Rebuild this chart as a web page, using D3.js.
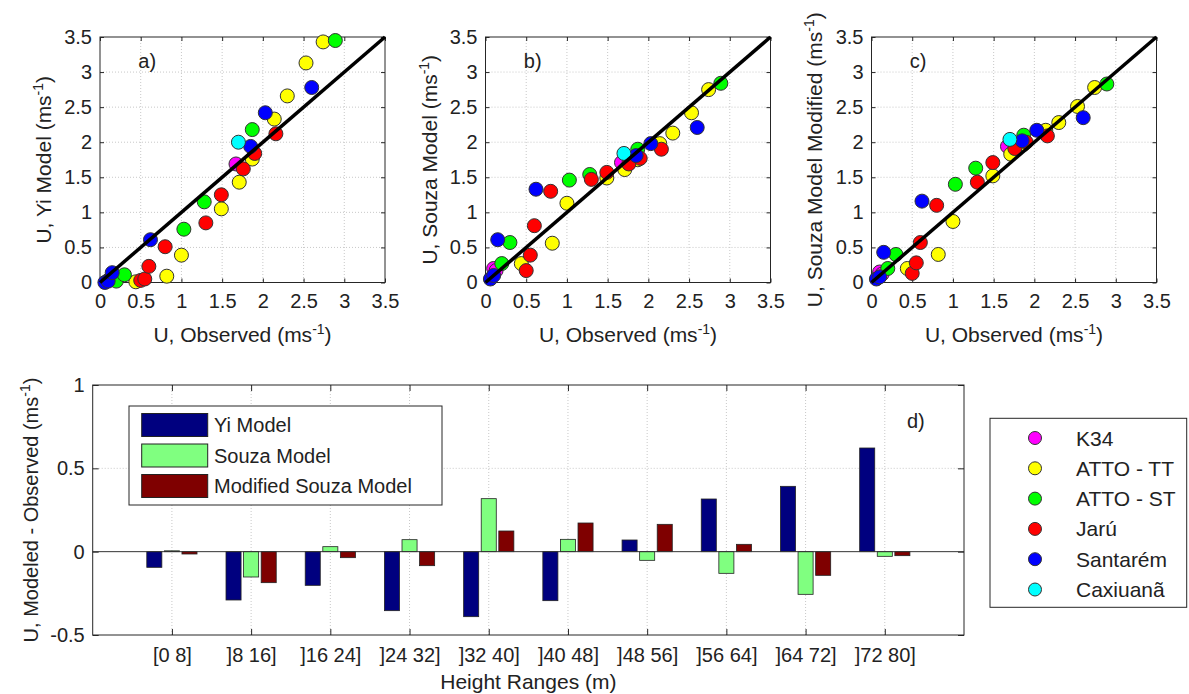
<!DOCTYPE html>
<html>
<head>
<meta charset="utf-8">
<script src="https://cdn.jsdelivr.net/npm/d3@7"></script>
<style>
  body { margin: 0; background: #fff; }
  svg { font-family: "Liberation Sans", Arial, sans-serif; }
</style>
</head>
<body>
<div id="chart"></div>
<script>
// Sites (legend order) and their marker colours
const sites = ["K34", "ATTO - TT", "ATTO - ST", "Jarú", "Santarém", "Caxiuanã"];
const siteColors = ["#ff00ff", "#ffff00", "#00ff00", "#ff0000", "#0000ff", "#00ffff"];

// One entry per point: site index, observed U, and the three modelled U values
const pointSite = [4, 4, 4, 0, 0, 2, 2, 1, 3, 3, 3, 4, 3, 1, 1, 2, 2, 3, 1, 3, 0, 5, 1, 3, 4, 2, 1, 3, 4, 1, 3, 1, 1, 4, 1, 2];
const obsU   = [0.06, 0.10, 0.15, 0.10, 0.13, 0.20, 0.30, 0.44, 0.50, 0.55, 0.60, 0.62, 0.80, 0.82, 1.00, 1.03, 1.28, 1.30, 1.49, 1.49, 1.67, 1.70, 1.71, 1.76, 1.85, 1.87, 1.87, 1.90, 2.03, 2.14, 2.16, 2.30, 2.53, 2.60, 2.74, 2.89];
const yiU    = [0.00, 0.02, 0.14, 0.03, 0.05, 0.02, 0.11, 0.01, 0.03, 0.05, 0.23, 0.61, 0.51, 0.09, 0.39, 0.76, 1.15, 0.85, 1.05, 1.25, 1.69, 2.00, 1.43, 1.62, 1.94, 2.18, 1.76, 1.84, 2.42, 2.33, 2.12, 2.66, 3.13, 2.78, 3.43, 3.45];
const souzaU = [0.05, 0.10, 0.61, 0.20, 0.17, 0.27, 0.57, 0.27, 0.17, 0.39, 0.81, 1.33, 1.30, 0.56, 1.13, 1.46, 1.54, 1.47, 1.49, 1.57, 1.71, 1.84, 1.61, 1.69, 1.81, 1.90, 1.75, 1.77, 1.98, 1.98, 1.90, 2.13, 2.42, 2.21, 2.75, 2.84];
const modU   = [0.05, 0.08, 0.43, 0.15, 0.12, 0.20, 0.40, 0.20, 0.13, 0.28, 0.57, 1.16, 1.10, 0.40, 0.87, 1.40, 1.63, 1.43, 1.52, 1.71, 1.94, 2.04, 1.83, 1.91, 2.02, 2.10, 1.97, 2.00, 2.17, 2.17, 2.09, 2.28, 2.51, 2.35, 2.78, 2.83];

const scatterTicks = [0, 0.5, 1, 1.5, 2, 2.5, 3, 3.5];

// Bar chart (d)
const heightRanges = ["[0 8]", "]8 16]", "]16 24]", "]24 32]", "]32 40]", "]40 48]", "]48 56]", "]56 64]", "]64 72]", "]72 80]"];
const barSeries = ["Yi Model", "Souza Model", "Modified Souza Model"];
const barColors = ["#00007f", "#80ff80", "#7f0000"];
const yiDiff    = [-0.094, -0.290, -0.202, -0.354, -0.390, -0.294, 0.070, 0.316, 0.392, 0.622];
const souzaDiff = [0.005, -0.152, 0.030, 0.072, 0.318, 0.074, -0.052, -0.130, -0.256, -0.028];
const modDiff   = [-0.014, -0.186, -0.036, -0.084, 0.124, 0.172, 0.164, 0.044, -0.142, -0.024];
const barTicks = [-0.5, 0, 0.5, 1];

const W = 1189, H = 694;
const FS = 20;      // tick / legend text
const LFS = 21;     // axis labels
const axisColor = "#262626";
const gridColor = "#c8c8c8";

const svg = d3.select("#chart").append("svg")
    .attr("width", W).attr("height", H);

// text with a "-1" superscript: prefix + sup + suffix
function supLabel(sel, prefix, sup, suffix) {
    sel.append("tspan").text(prefix);
    sel.append("tspan").attr("dy", -8).attr("font-size", 14).text(sup);
    sel.append("tspan").attr("dy", 8).text(suffix);
}

function styleAxis(g) {
    g.select(".domain").remove();
    g.selectAll(".tick line").attr("stroke", axisColor);
    g.selectAll(".tick text").attr("font-size", FS).attr("fill", "#222").attr("font-family", "Liberation Sans, Arial, sans-serif");
}

// ---------- scatter panels a), b), c) ----------
const panels = [
    { vals: yiU,    ylab: "U, Yi Model (ms",              tag: "a)", left: 100,   labX: 51 },
    { vals: souzaU, ylab: "U, Souza Model (ms",           tag: "b)", left: 485.5, labX: 437 },
    { vals: modU,   ylab: "U, Souza Model Modified (ms",  tag: "c)", left: 871.5, labX: 822 }
];
const pTop = 37, pBottom = 282.5, pWidth = 285;

// draw order follows the legend order of the sites
const order = d3.range(obsU.length).sort((a, b) => pointSite[a] - pointSite[b] || a - b);

panels.forEach(p => {
    const x = d3.scaleLinear().domain([0, 3.5]).range([p.left, p.left + pWidth]);
    const y = d3.scaleLinear().domain([0, 3.5]).range([pBottom, pTop]);
    const g = svg.append("g");

    // grid
    g.selectAll(".gx").data(scatterTicks.slice(1, -1)).enter().append("line")
        .attr("x1", d => x(d)).attr("x2", d => x(d)).attr("y1", pTop).attr("y2", pBottom)
        .attr("stroke", gridColor).attr("stroke-dasharray", "1,2");
    g.selectAll(".gy").data(scatterTicks.slice(1, -1)).enter().append("line")
        .attr("y1", d => y(d)).attr("y2", d => y(d)).attr("x1", p.left).attr("x2", p.left + pWidth)
        .attr("stroke", gridColor).attr("stroke-dasharray", "1,2");

    // axes with inward ticks
    g.append("g").attr("transform", `translate(0,${pBottom})`)
        .call(d3.axisBottom(x).tickValues(scatterTicks).tickFormat(d => String(d)).tickSize(-4).tickPadding(11))
        .call(styleAxis);
    g.append("g").attr("transform", `translate(0,${pTop})`)
        .call(d3.axisTop(x).tickValues(scatterTicks).tickFormat("").tickSize(-4))
        .call(styleAxis);
    g.append("g").attr("transform", `translate(${p.left},0)`)
        .call(d3.axisLeft(y).tickValues(scatterTicks).tickFormat(d => String(d)).tickSize(-4).tickPadding(8))
        .call(styleAxis);
    g.append("g").attr("transform", `translate(${p.left + pWidth},0)`)
        .call(d3.axisRight(y).tickValues(scatterTicks).tickFormat("").tickSize(-4))
        .call(styleAxis);

    g.append("rect").attr("x", p.left).attr("y", pTop).attr("width", pWidth).attr("height", pBottom - pTop)
        .attr("fill", "none").attr("stroke", axisColor).attr("stroke-width", 1);

    // points
    g.selectAll(".pt").data(order).enter().append("circle")
        .attr("cx", i => x(obsU[i])).attr("cy", i => y(p.vals[i])).attr("r", 7)
        .attr("fill", i => siteColors[pointSite[i]])
        .attr("stroke", "#333").attr("stroke-width", 1);

    // 1:1 line
    g.append("line")
        .attr("x1", x(0)).attr("y1", y(0)).attr("x2", x(3.5)).attr("y2", y(3.5))
        .attr("stroke", "#000").attr("stroke-width", 3.5);

    g.append("text").attr("x", x(0.47)).attr("y", y(3.06))
        .attr("font-size", FS).attr("fill", "#222").text(p.tag);

    supLabel(g.append("text").attr("x", p.left + pWidth / 2).attr("y", 342)
        .attr("text-anchor", "middle").attr("font-size", LFS).attr("fill", "#222"),
        "U, Observed (ms", "-1", ")");

    supLabel(g.append("text")
        .attr("transform", `translate(${p.labX},${(pTop + pBottom) / 2}) rotate(-90)`)
        .attr("text-anchor", "middle").attr("font-size", LFS).attr("fill", "#222"),
        p.ylab, "-1", ")");
});

// ---------- bar chart d) ----------
const bLeft = 92.7, bRight = 964, bTop = 385, bBottom = 635;
const bx = d3.scaleLinear().domain([0, 11]).range([bLeft, bRight]);
const by = d3.scaleLinear().domain([-0.5, 1]).range([bBottom, bTop]);
const catPos = heightRanges.map((d, i) => i + 1);
const gb = svg.append("g");

gb.selectAll(".gx").data(catPos).enter().append("line")
    .attr("x1", d => bx(d)).attr("x2", d => bx(d)).attr("y1", bTop).attr("y2", bBottom)
    .attr("stroke", gridColor).attr("stroke-dasharray", "1,2");
gb.selectAll(".gy").data([0.5]).enter().append("line")
    .attr("y1", d => by(d)).attr("y2", d => by(d)).attr("x1", bLeft).attr("x2", bRight)
    .attr("stroke", gridColor).attr("stroke-dasharray", "1,2");

gb.append("g").attr("transform", `translate(0,${bBottom})`)
    .call(d3.axisBottom(bx).tickValues(catPos).tickFormat(d => heightRanges[d - 1]).tickSize(-6).tickPadding(13))
    .call(styleAxis);
gb.append("g").attr("transform", `translate(0,${bTop})`)
    .call(d3.axisTop(bx).tickValues(catPos).tickFormat("").tickSize(-6))
    .call(styleAxis);
gb.append("g").attr("transform", `translate(${bLeft},0)`)
    .call(d3.axisLeft(by).tickValues(barTicks).tickFormat(d => String(d)).tickSize(-6).tickPadding(8))
    .call(styleAxis);
gb.append("g").attr("transform", `translate(${bRight},0)`)
    .call(d3.axisRight(by).tickValues(barTicks).tickFormat("").tickSize(-6))
    .call(styleAxis);

// bars
const barOffsets = [-0.222, 0, 0.222];
const barW = 0.19;
[yiDiff, souzaDiff, modDiff].forEach((vals, s) => {
    gb.selectAll(".bar" + s).data(vals).enter().append("rect")
        .attr("x", (d, i) => bx(i + 1 + barOffsets[s] - barW / 2))
        .attr("width", bx(barW) - bx(0))
        .attr("y", d => by(Math.max(0, d)))
        .attr("height", d => Math.abs(by(d) - by(0)))
        .attr("fill", barColors[s])
        .attr("stroke", "#222").attr("stroke-width", 0.8);
});

// baseline
gb.append("line").attr("x1", bLeft).attr("x2", bRight).attr("y1", by(0)).attr("y2", by(0))
    .attr("stroke", "#333").attr("stroke-width", 1);

gb.append("rect").attr("x", bLeft).attr("y", bTop).attr("width", bRight - bLeft).attr("height", bBottom - bTop)
    .attr("fill", "none").attr("stroke", axisColor);

gb.append("text").attr("x", bx(10.28)).attr("y", by(0.745))
    .attr("font-size", FS).attr("fill", "#222").text("d)");

supLabel(gb.append("text")
    .attr("transform", `translate(38,${(bTop + bBottom) / 2}) rotate(-90)`)
    .attr("text-anchor", "middle").attr("font-size", FS).attr("fill", "#222"),
    "U, Modeled - Observed (ms", "-1", ")");

gb.append("text").attr("x", (bLeft + bRight) / 2).attr("y", 689)
    .attr("text-anchor", "middle").attr("font-size", LFS).attr("fill", "#222")
    .text("Height Ranges (m)");

// bar legend
const bl = gb.append("g");
bl.append("rect").attr("x", 129).attr("y", 406).attr("width", 313).attr("height", 99)
    .attr("fill", "#fff").attr("stroke", axisColor);
barSeries.forEach((name, i) => {
    const cy = 425 + i * 30.5;
    bl.append("rect").attr("x", 141.7).attr("y", cy - 11.5).attr("width", 66).attr("height", 23)
        .attr("fill", barColors[i]).attr("stroke", "#222");
    bl.append("text").attr("x", 214).attr("y", cy + 7)
        .attr("font-size", FS).attr("fill", "#222").text(name);
});

// site legend
const sl = svg.append("g");
sl.append("rect").attr("x", 990).attr("y", 418.3).attr("width", 196.7).attr("height", 189)
    .attr("fill", "#fff").attr("stroke", axisColor);
sites.forEach((name, i) => {
    const cy = 438 + i * 30.3;
    sl.append("circle").attr("cx", 1035).attr("cy", cy).attr("r", 6.5)
        .attr("fill", siteColors[i]).attr("stroke", "#333");
    sl.append("text").attr("x", 1076).attr("y", cy + 7.5)
        .attr("font-size", 21).attr("fill", "#222").text(name);
});
</script>
</body>
</html>
